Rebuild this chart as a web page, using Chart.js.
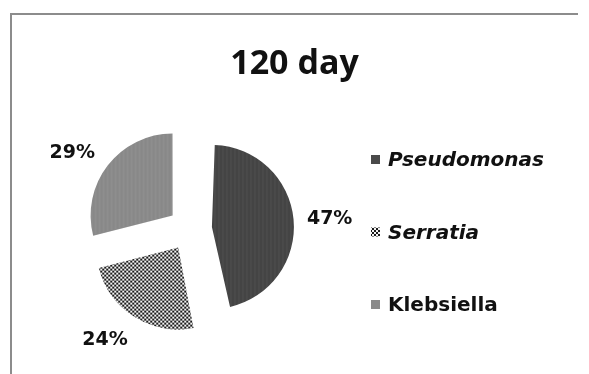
<!DOCTYPE html>
<html>
<head>
<meta charset="utf-8">
<script src="https://cdn.jsdelivr.net/npm/chart.js@4.4.1/dist/chart.umd.min.js"></script>
<style>
  html, body { margin: 0; padding: 0; background: #fff; }
  #wrap { position: relative; width: 589px; height: 374px; overflow: hidden; }
  #frame { position: absolute; left: 10px; top: 13px; width: 566px; height: 400px;
           border-left: 2px solid #8c8c8c; border-top: 2px solid #8c8c8c; }
  #pie { position: absolute; left: 0; top: 0; }
</style>
</head>
<body>
<div id="wrap">
  <div id="frame"></div>
  <canvas id="pie" width="589" height="374"></canvas>
</div>
<script>
// --- data ---
const title = "120 day";
const categories = ["Pseudomonas", "Serratia", "Klebsiella"];
const shares = [47, 24, 29];
const italicNames = [true, true, false];

// --- fill patterns (office style greyscale) ---
function stripes(a, b) {
  const c = document.createElement("canvas");
  c.width = 4; c.height = 4;
  const g = c.getContext("2d");
  g.fillStyle = a; g.fillRect(0, 0, 4, 4);
  g.fillStyle = b; g.fillRect(2, 0, 2, 4);
  return g.createPattern(c, "repeat");
}
function checker() {
  const c = document.createElement("canvas");
  c.width = 4; c.height = 4;
  const g = c.getContext("2d");
  g.fillStyle = "#f4f4f4"; g.fillRect(0, 0, 4, 4);
  g.fillStyle = "#1a1a1a";
  g.fillRect(0, 0, 2, 2);
  g.fillRect(2, 2, 2, 2);
  return g.createPattern(c, "repeat");
}
const fills = [stripes("#4a4a4a", "#444444"), checker(), stripes("#8e8e8e", "#888888")];
const swatch = ["#4a4a4a", null, "#8a8a8a"];

const RADIUS = 82;
const OFFSET = 88;          // chart.js moves a slice offset/4 px
const EXPLODE = OFFSET / 4;

// chart.js also grows wide exploded slices by offset/4 * (1 - sin(angle));
// take that back so every slice keeps the same radius (Excel look)
const evenRadius = {
  id: "evenRadius",
  afterDatasetsUpdate(chart) {
    chart.getDatasetMeta(0).data.forEach(arc => {
      const circ = arc.endAngle - arc.startAngle;
      const grow = EXPLODE * (1 - Math.sin(Math.min(Math.PI, circ)));
      arc.outerRadius = RADIUS - grow;
    });
  }
};

// label sits a bit closer to the horizontal than the slice bisector
function leanAngle(a) {
  const toH = Math.atan2(Math.sin(a), Math.abs(Math.cos(a)));   // signed gap to horizontal
  const step = Math.min(0.087, Math.abs(toH) * 0.25);
  const dir = Math.cos(a) >= 0 ? -Math.sign(toH) : Math.sign(toH);
  return a + dir * step;
}

// --- title, percent labels and legend ---
const decorate = {
  id: "decorate",
  afterDraw(chart) {
    const ctx = chart.ctx;
    const arcs = chart.getDatasetMeta(0).data;
    ctx.save();
    ctx.fillStyle = "#111";

    ctx.font = 'bold 34px "Open Sans"';
    ctx.textAlign = "center";
    ctx.textBaseline = "alphabetic";
    ctx.fillText(title, chart.width / 2, 74);

    // percents, outside end
    ctx.font = 'bold 19px "DejaVu Sans"';
    ctx.textBaseline = "middle";
    arcs.forEach((arc, i) => {
      const mid = leanAngle((arc.startAngle + arc.endAngle) / 2);
      const d = RADIUS + EXPLODE + 36;
      ctx.fillText(shares[i] + "%", arc.x + Math.cos(mid) * d, arc.y + Math.sin(mid) * d);
    });

    // legend
    ctx.textAlign = "left";
    ctx.textBaseline = "alphabetic";
    categories.forEach((name, i) => {
      const base = 166 + i * 72.5;
      ctx.fillStyle = swatch[i] || fills[i];
      ctx.fillRect(371, base - 11, 9, 9);
      ctx.fillStyle = "#111";
      ctx.font = (italicNames[i] ? "italic " : "") + 'bold 20px "DejaVu Sans"';
      ctx.fillText(name, 388, base);
    });
    ctx.restore();
  }
};

new Chart(document.getElementById("pie"), {
  type: "pie",
  data: {
    labels: categories,
    datasets: [{
      data: shares,
      backgroundColor: fills,
      borderWidth: 0,
      offset: OFFSET
    }]
  },
  options: {
    responsive: false,
    animation: false,
    radius: RADIUS,
    layout: { padding: { left: 0, right: 209, top: 85, bottom: 1 } },
    plugins: {
      legend: { display: false },
      tooltip: { enabled: false },
      title: { display: false }
    }
  },
  plugins: [evenRadius, decorate]
});
</script>
</body>
</html>
